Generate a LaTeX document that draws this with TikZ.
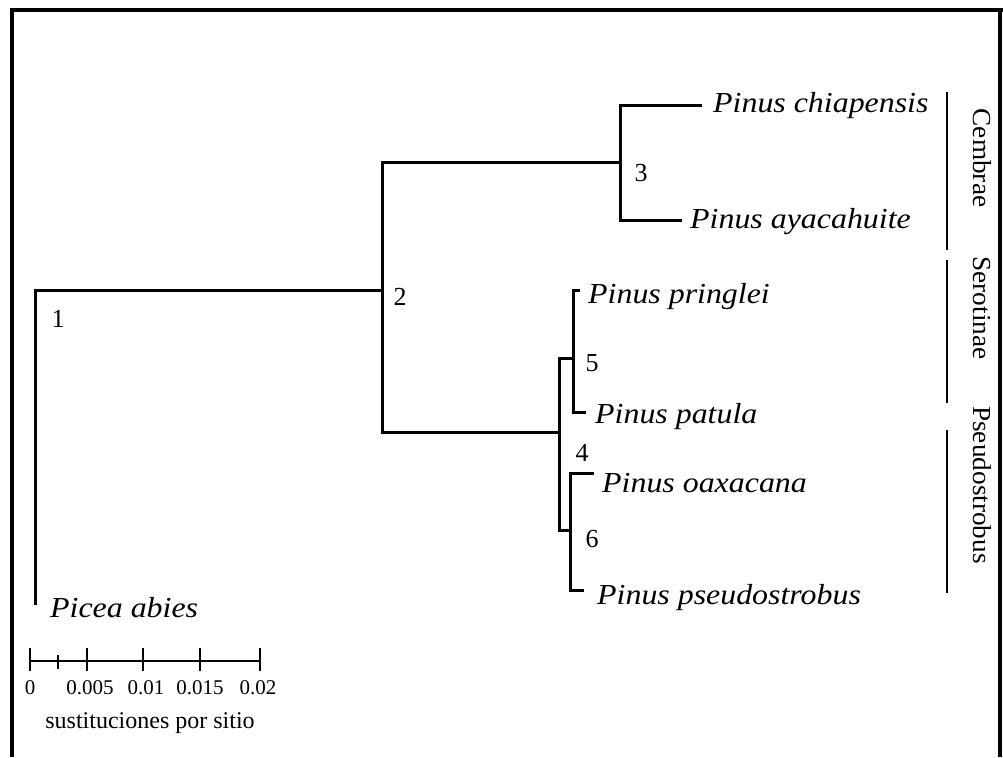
\documentclass[tikz,border=0pt]{standalone}
\usepackage{fontspec}
\setmainfont{Liberation Serif}
\newfontfamily\leaffont[FakeStretch=1.1]{Liberation Serif}
\newfontfamily\groupfont[FakeStretch=1.05]{Liberation Serif}
\begin{document}
\begin{tikzpicture}[x=1pt,y=-1pt,
  branch/.style={line width=3pt,line cap=rect},
  frame/.style={line width=3.5pt},
  leaf/.style={anchor=west,inner sep=0pt,font=\leaffont\itshape\fontsize{29}{32}\selectfont},
  num/.style={inner sep=0pt,font=\fontsize{26}{28}\selectfont},
  group/.style={inner sep=0pt,rotate=-90,font=\groupfont\fontsize{26}{28}\selectfont},
  tick/.style={inner sep=0pt,font=\fontsize{21}{24}\selectfont},
  bar/.style={line width=2.6pt}]
\useasboundingbox (0,0) rectangle (1003,757);
% frame
\draw[frame] (12,757) -- (12,10) -- (1003,10);
\draw[frame] (1000,10) -- (1000,757);
% branch points
\coordinate (n2) at (382,290);
\coordinate (n3) at (620,162);
\coordinate (n4) at (559,432);
\coordinate (n5) at (573,358);
\coordinate (n6) at (570,530);
% leaf line ends
\coordinate (epicea) at (35,603);
\coordinate (echi) at (700,106);
\coordinate (eaya) at (680,220);
\coordinate (epri) at (578,290);
\coordinate (epat) at (584,412);
\coordinate (eoax) at (592,473);
\coordinate (epse) at (582,590);
% branches
\draw[branch] (epicea) |- (n2);
\draw[branch] (n2) |- (n3);
\draw[branch] (n2) |- (n4);
\draw[branch] (n3) |- (echi);
\draw[branch] (n3) |- (eaya);
\draw[branch] (n4) |- (n5);
\draw[branch] (n4) |- (n6);
\draw[branch] (n5) |- (epri);
\draw[branch] (n5) |- (epat);
\draw[branch] (n6) |- (eoax);
\draw[branch] (n6) |- (epse);
% node numbers
\node[num] (l1) at (58,319) {1};
\node[num] (l2) at (400,297) {2};
\node[num] (l3) at (641,173) {3};
\node[num] (l4) at (582,453) {4};
\node[num] (l5) at (592,363) {5};
\node[num] (l6) at (592,539) {6};
% leaf labels
\node[leaf] (tchi) at (713,106) {Pinus chiapensis};
\node[leaf] (taya) at (690,222) {Pinus ayacahuite};
\node[leaf] (tpri) at (588,297) {Pinus pringlei};
\node[leaf] (tpat) at (595,417) {Pinus patula};
\node[leaf] (toax) at (602,483) {Pinus oaxacana};
\node[leaf] (tpse) at (597,598) {Pinus pseudostrobus};
\node[leaf] (tpicea) at (50,608) {Picea abies};
% group bars and labels
\draw[line width=1.8pt] (947,92) -- (947,250);
\draw[line width=1.8pt] (947,260) -- (947,403);
\draw[line width=1.8pt] (947,430) -- (947,593);
\node[group] (gcem) at (982,158) {Cembrae};
\node[group] (gser) at (982,308) {Serotinae};
\node[group] (gpse) at (982,485) {Pseudostrobus};
% scale bar
\coordinate (s0) at (30,661);
\coordinate (s1) at (260,661);
\draw[bar] (s0) -- (s1);
\foreach \x in {30,87,143,200,260} \draw[bar] (\x,648) -- (\x,671);
\draw[bar] (58,655) -- (58,669);
\node[tick] (k0) at (30,688) {0};
\node[tick] (k1) at (90,688) {0.005};
\node[tick] (k2) at (146,688) {0.01};
\node[tick] (k3) at (200,688) {0.015};
\node[tick] (k4) at (258,688) {0.02};
\node[inner sep=0pt,font=\fontsize{24}{26}\selectfont] (unit) at (150,723) {sustituciones por sitio};
\end{tikzpicture}
\end{document}
